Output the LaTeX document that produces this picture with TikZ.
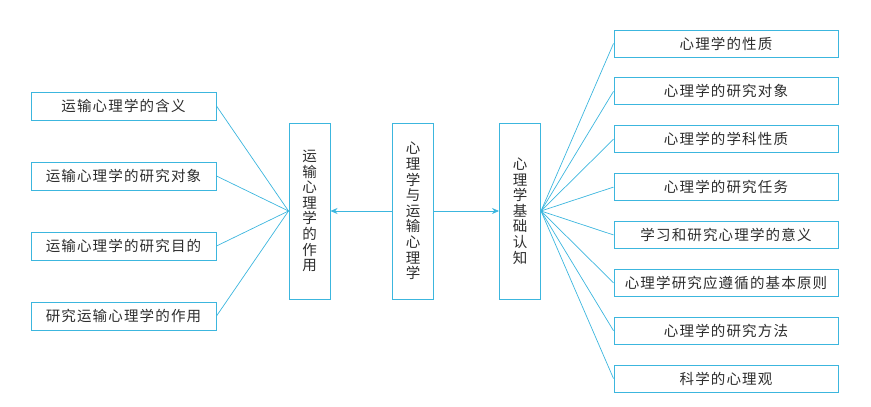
\documentclass[tikz,border=0pt]{standalone}
\usepackage{fontspec}
\setmainfont{Noto Sans CJK SC}
\usetikzlibrary{arrows.meta}
\definecolor{linecyan}{RGB}{60,182,222}
\definecolor{txtgray}{RGB}{45,45,45}
\tikzset{
  box/.style={draw=linecyan, line width=1pt, text=txtgray, inner sep=0pt,
    font=\fontsize{14.5}{15.6}\selectfont},
  leftbox/.style={box, minimum width=185pt, minimum height=28pt,
    font=\fontsize{14.5}{15.6}\selectfont\addfontfeature{LetterSpace=8}},
  rightbox/.style={box, minimum width=224pt, minimum height=27pt,
    font=\fontsize{14.5}{15.6}\selectfont\addfontfeature{LetterSpace=8}},
  vbox/.style={box, minimum width=41pt, minimum height=176pt, align=center},
  link/.style={draw=linecyan, line width=0.7pt},
  arr/.style={link, -{Stealth[length=7pt,width=6pt]}}
}
\begin{document}
\begin{tikzpicture}[x=1pt,y=-1pt]
    \useasboundingbox (0,0) rectangle (871,407);
    % centre column
    \node[vbox] (core) at (413,211) {心\\理\\学\\与\\运\\输\\心\\理\\学};
    \node[vbox] (use) at (309.5,211) {运\\输\\心\\理\\学\\的\\作\\用};
    \node[vbox] (base) at (520,211) {心\\理\\学\\基\\础\\认\\知};
    \draw[arr] (core.west) -- (use.east);
    \draw[arr] (core.east) -- (base.west);
    % left branch
    \foreach \t [count=\i] in {运输心理学的含义, 运输心理学的研究对象, 运输心理学的研究目的, 研究运输心理学的作用}{
        \node[leftbox] (l\i) at (123.5,{106+70*(\i-1)}) {\t};
        \draw[link] (l\i.east) -- (use.west);
    }
    % right branch
    \foreach \t [count=\i] in {心理学的性质, 心理学的研究对象, 心理学的学科性质, 心理学的研究任务, 学习和研究心理学的意义, 心理学研究应遵循的基本原则, 心理学的研究方法, 科学的心理观}{
        \node[rightbox] (r\i) at (726,{43.5+47.86*(\i-1)}) {\t};
        \draw[link] (base.east) -- (r\i.west);
    }
\end{tikzpicture}
\end{document}
